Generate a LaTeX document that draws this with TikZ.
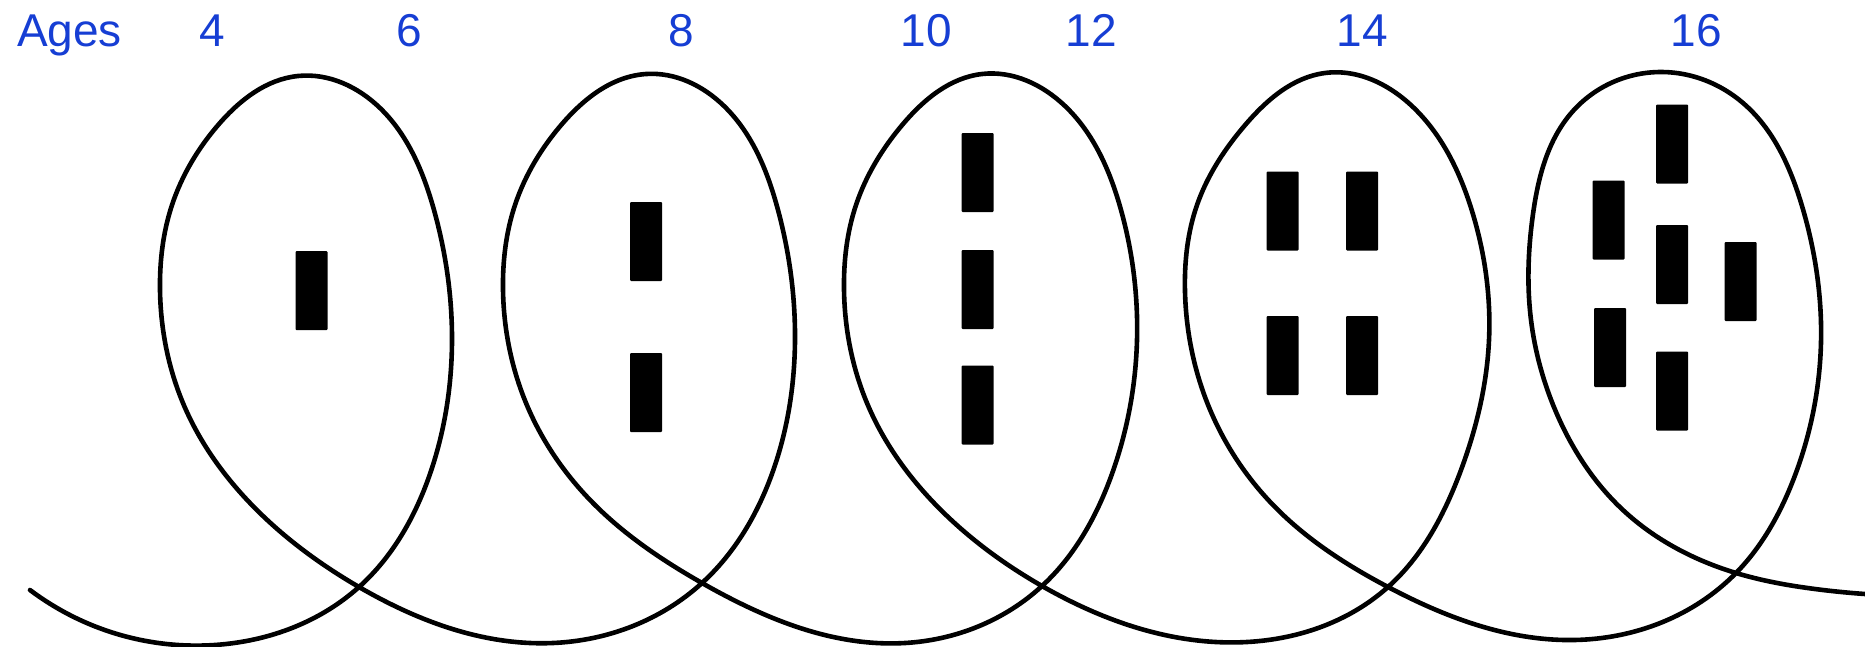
\documentclass[tikz,border=0pt]{standalone}
\usepackage{fontspec}
\setmainfont{Liberation Sans}
\usetikzlibrary{hobby}
\definecolor{ageblue}{RGB}{22,62,212}
\begin{document}
\begin{tikzpicture}[x=1pt,y=-1pt,
  lbl/.style={anchor=base,inner sep=0pt,text=ageblue,font=\fontsize{46}{52}\selectfont},
  bar/.style={fill=black,draw=none,inner sep=0pt,minimum width=32pt,minimum height=79pt,rounded corners=1pt},
  spring/.style={line width=4.6pt,line cap=round,line join=round,use Hobby shortcut}]
\useasboundingbox[fill=white] (0,0) rectangle (1865,646);
% labels
\node[lbl] (ages) at (69.5,46.6) {Ages};
\node[lbl] (a4)  at (212,46.6) {4};
\node[lbl] (a6)  at (409,46.6) {6};
\node[lbl] (a8)  at (681,46.6) {8};
\node[lbl] (a10) at (926,46.6) {10};
\node[lbl] (a12) at (1091,46.6) {12};
\node[lbl] (a14) at (1362,46.6) {14};
\node[lbl] (a16) at (1696,46.6) {16};
% crossing points
\coordinate (c1) at (359,587);
\coordinate (c2) at (702,583);
\coordinate (c3) at (1042,586);
\coordinate (c4) at (1388,587);
\coordinate (c5) at (1736,573);
\coordinate (s) at (30,590);
\coordinate (e) at (1865,594);
% looped line
\draw[spring] (s) .. (226,644) .. (c1)
 .. (431,471) .. (452,340) .. (434,210) .. (380,108) .. (298,76) .. (219,124) .. (172,205) .. (160,290) .. (186,410) .. (250,503) .. (c1)
 .. (553,643) .. (c2)
 .. (773,471) .. (795,340) .. (778,210) .. (724,106) .. (646,74) .. (562,124) .. (515,205) .. (503,290) .. (529,410) .. (593,503) .. (c2)
 .. (905,643) .. (c3)
 .. (1113,471) .. (1137,340) .. (1121,210) .. (1065,106) .. (982,74) .. (903,124) .. (856,205) .. (844,290) .. (870,410) .. (934,503) .. (c3)
 .. (1247,642) .. (c4)
 .. (1461,470) .. (1489,340) .. (1472,211) .. (1414,108) .. (1325,73) .. (1246,124) .. (1197,205) .. (1185,292) .. (1211,412) .. (1275,507) .. (c4)
 .. (1574,640) .. (c5)
 .. (1794,478) .. (1821,342) .. (1802,206) .. (1743,103) .. (1662,72) .. (1573,111) .. (1533,214) .. (1531,320) .. (1556,412) .. (1624,511) .. (c5)
 .. (1815,589) .. (e);
% bars
\node[bar] (b1) at (311.5,290.5) {};
\node[bar] (b2a) at (646,241.5) {};
\node[bar] (b2b) at (646,392.5) {};
\node[bar] (b3a) at (977.5,172.5) {};
\node[bar] (b3b) at (977.5,289.5) {};
\node[bar] (b3c) at (977.5,405) {};
\node[bar] (b4a) at (1282.5,211) {};
\node[bar] (b4b) at (1362,211) {};
\node[bar] (b4c) at (1282.5,355.5) {};
\node[bar] (b4d) at (1362,355.5) {};
\node[bar] (b5a) at (1672,144) {};
\node[bar] (b5b) at (1608.5,220) {};
\node[bar] (b5c) at (1672,264.5) {};
\node[bar] (b5d) at (1740.5,281.5) {};
\node[bar] (b5e) at (1610,347.5) {};
\node[bar] (b5f) at (1672,391) {};
\end{tikzpicture}
\end{document}
